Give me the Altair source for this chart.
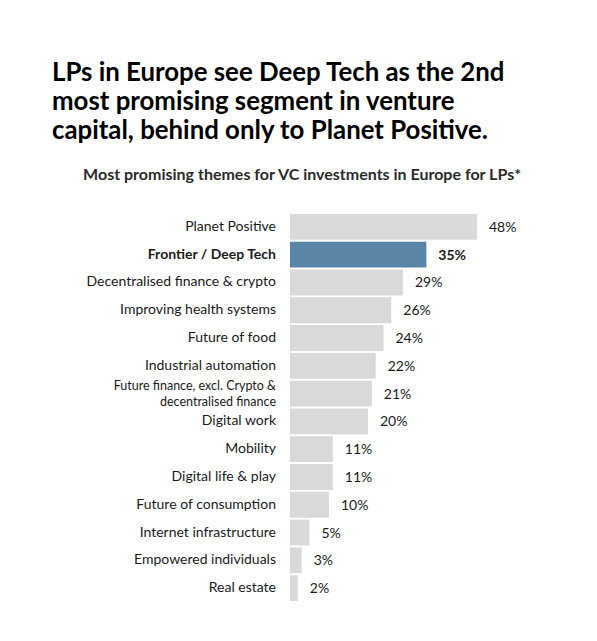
import altair as alt
import pandas as pd

themes = [
    "Planet Positive",
    "Frontier / Deep Tech",
    "Decentralised finance & crypto",
    "Improving health systems",
    "Future of food",
    "Industrial automation",
    "Future finance, excl. Crypto &\ndecentralised finance",
    "Digital work",
    "Mobility",
    "Digital life & play",
    "Future of consumption",
    "Internet infrastructure",
    "Empowered individuals",
    "Real estate",
]
shares = [48, 35, 29, 26, 24, 22, 21, 20, 11, 11, 10, 5, 3, 2]
highlight = "Frontier / Deep Tech"
small_label = "Future finance, excl. Crypto &\ndecentralised finance"

FONT = "Lato"
GREY = "#d9d9d9"
BLUE = "#5a85a6"
TEXT = "#1a1a1a"

df = pd.DataFrame({"theme": themes, "share": shares})
df["label"] = df["share"].astype(str) + "%"
df["key"] = df["theme"].str.replace("\n", " ")
order = df["key"].tolist()

hl_test = alt.datum.theme == highlight
small_test = alt.datum.theme == small_label

base = alt.Chart(df).encode(
    y=alt.Y(
        "key:N",
        sort=order,
        axis=None,
        scale=alt.Scale(paddingInner=0.07, paddingOuter=0.035),
    )
)

bars = base.mark_bar().encode(
    x=alt.X("share:Q", axis=None, scale=alt.Scale(domain=[0, 48], nice=False)),
    color=alt.condition(hl_test, alt.value(BLUE), alt.value(GREY)),
)

value_style = dict(align="left", baseline="middle", dx=12, dy=1, font=FONT, fontSize=14, color=TEXT)
values = base.mark_text(**value_style).encode(x="share:Q", text="label:N").transform_filter(~hl_test)
values_hl = base.mark_text(fontWeight="bold", **value_style).encode(
    x="share:Q", text="label:N"
).transform_filter(hl_test)

name_style = dict(align="right", baseline="middle", font=FONT, color=TEXT)
names = base.mark_text(fontSize=14, **name_style).encode(
    x=alt.value(-14), text="theme:N"
).transform_filter(~hl_test & ~small_test)
names_hl = base.mark_text(fontWeight="bold", fontSize=14, **name_style).encode(
    x=alt.value(-14), text="theme:N"
).transform_filter(hl_test)
names_small = base.mark_text(fontSize=12.5, lineBreak="\n", lineHeight=16, dy=-8, **name_style).encode(
    x=alt.value(-14), text="theme:N"
).transform_filter(small_test)

subtitle = alt.Chart(pd.DataFrame({"t": ["Most promising themes for VC investments in Europe for LPs*"]})).mark_text(
    align="center", baseline="alphabetic", font=FONT, fontSize=16, fontWeight="bold", color="#2b2b2b"
).encode(x=alt.value(12), y=alt.value(-33), text="t:N")

chart = (bars + values + values_hl + names + names_hl + names_small + subtitle).properties(
    width=187,
    height=389,
    padding={"left": 282, "top": 205, "right": 100, "bottom": 30},
    autosize=alt.AutoSizeParams(type="none"),
    background="white",
    title=alt.TitleParams(
        text=[
            "LPs in Europe see Deep Tech as the 2nd",
            "most promising segment in venture",
            "capital, behind only to Planet Positive.",
        ],
        anchor="start",
        frame="group",
        dx=-238,
        offset=22,
        font=FONT,
        fontSize=25.8,
        fontWeight="bold",
        lineHeight=29,
        color="#000000",
    ),
).configure_view(strokeWidth=0)

chart.save("out.html", embed_options={"renderer": "svg", "actions": False})
